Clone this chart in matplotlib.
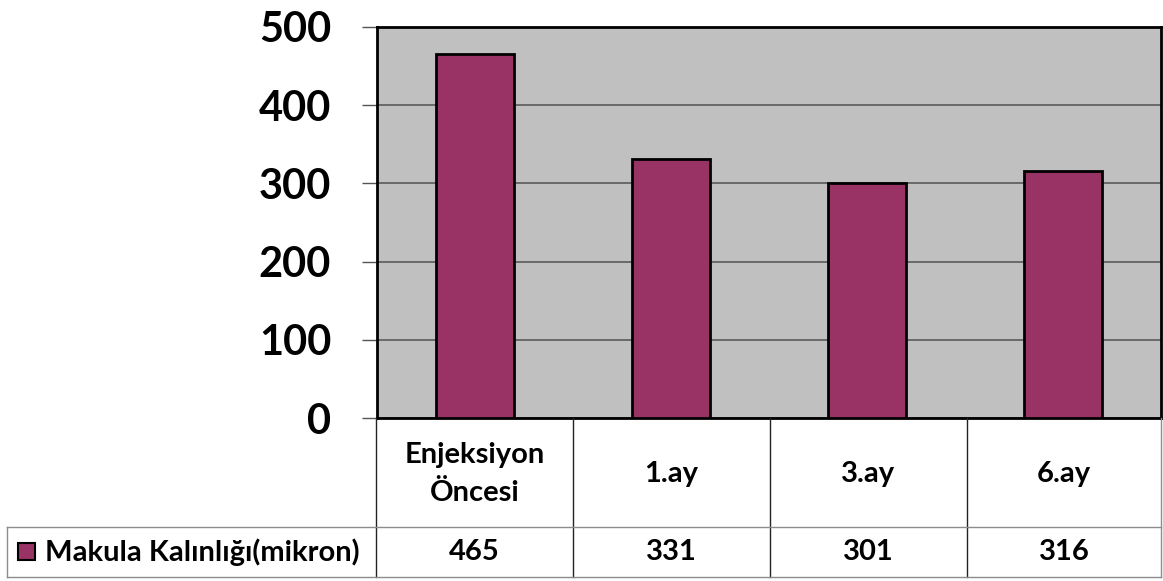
import matplotlib
matplotlib.use("Agg")
import matplotlib.pyplot as plt
from matplotlib.lines import Line2D
from matplotlib.patches import Rectangle

# Data
categories = ["Enjeksiyon\nÖncesi", "1.ay", "3.ay", "6.ay"]
values = [465, 331, 301, 316]
series_name = "Makula Kalınlığı(mikron)"
yticks = [0, 100, 200, 300, 400, 500]

BAR_COLOR = "#993366"
PLOT_BG = "#c0c0c0"
FONT = ["Lato", "DejaVu Sans"]

W, H = 1163, 581
fig = plt.figure(figsize=(W / 100, H / 100), dpi=100)
fig.patch.set_facecolor("white")


def fx(px):
    return px / W


def fy(py):
    return 1 - py / H


# Plot area in pixel coordinates
left, right, top, bottom = 377, 1161, 27, 418
ax = fig.add_axes([fx(left), fy(bottom), fx(right - left), (bottom - top) / H])
ax.set_facecolor(PLOT_BG)

x = list(range(len(values)))
ax.bar(x, values, width=0.40, color=BAR_COLOR, edgecolor="black", linewidth=2, zorder=3)
ax.set_xlim(-0.5, len(values) - 0.5)
ax.set_ylim(0, 500)
ax.set_yticks(yticks)
ax.set_yticklabels([str(v) for v in yticks], fontsize=30, fontweight="bold", family=FONT)
ax.yaxis.grid(True, color="#5a5a5a", linewidth=1.2, zorder=1)
ax.set_axisbelow(True)
ax.tick_params(axis="y", direction="out", length=11, width=1, color="#555555", pad=22)
ax.set_xticks([])
for side in ["left", "top", "right", "bottom"]:
    ax.spines[side].set_color("black")
    ax.spines[side].set_linewidth(2)

# Data table below the plot
col_edges = [376, 573, 770, 967, 1161]
header_top, header_bot, row_bot = 418, 527, 577
grey = "#8c8c8c"


def hline(y, x0, x1, color, lw=1):
    fig.add_artist(Line2D([fx(x0), fx(x1)], [fy(y), fy(y)], color=color, lw=lw))


def vline(xp, y0, y1, color, lw=1):
    fig.add_artist(Line2D([fx(xp), fx(xp)], [fy(y0), fy(y1)], color=color, lw=lw))


for i, xe in enumerate(col_edges):
    vline(xe, header_top, row_bot, "#222222" if i < len(col_edges) - 1 else grey, 1)
hline(header_bot, 7, 1161, grey, 1)
hline(row_bot, 7, 1161, grey, 1)
vline(7, header_bot, row_bot, grey, 1)

row_mid = (header_bot + row_bot) / 2
for i, (cat, val) in enumerate(zip(categories, values)):
    cx = (col_edges[i] + col_edges[i + 1]) / 2
    fig.text(fx(cx), fy(474), cat, ha="center", va="center",
             fontsize=21, fontweight="bold", family=FONT, linespacing=1.55)
    fig.text(fx(cx), fy(row_mid), str(val), ha="center", va="center",
             fontsize=21, fontweight="bold", family=FONT)

# Legend key inside the table
fig.add_artist(Rectangle((fx(18), fy(560)), fx(17), 17 / H, facecolor=BAR_COLOR,
                         edgecolor="black", linewidth=1.5))
fig.text(fx(45), fy(row_mid), series_name, ha="left", va="center",
         fontsize=21, fontweight="bold", family=FONT)

fig.savefig("out.png", dpi=100)
